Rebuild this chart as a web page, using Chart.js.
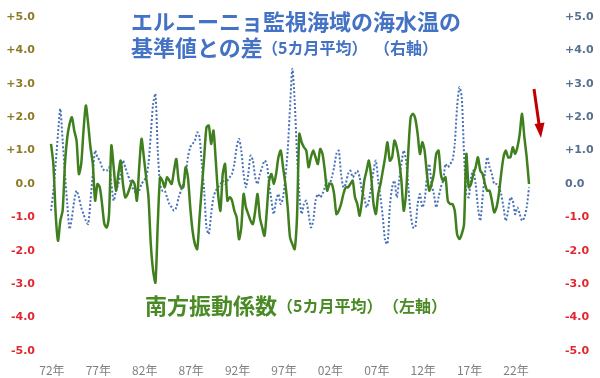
<!DOCTYPE html>
<html lang="ja">
<head>
<meta charset="utf-8">
<title>南方振動係数とエルニーニョ監視海域の海水温</title>
<script src="https://cdn.jsdelivr.net/npm/chart.js@4.4.0/dist/chart.umd.min.js"></script>
<style>
  html, body { margin: 0; padding: 0; background: #fff; }
  #wrap { position: relative; width: 600px; height: 378px; overflow: hidden; }
  #chart { position: absolute; left: 0; top: 0; }
  .lbl {
    position: absolute;
    white-space: nowrap;
    line-height: 1;
    font-family: "Noto Sans CJK JP", "Noto Sans", sans-serif;
    font-weight: bold;
  }
  .blue { color: #4472c4; }
  .green { color: #4a8a24; }
  .big { font-size: 22px; }
  .small { font-size: 16px; }
</style>
</head>
<body>
<div id="wrap">
  <canvas id="chart" width="600" height="378"></canvas>
  <div class="lbl blue big" style="left:131px; top:9px;">エルニーニョ監視海域の海水温の</div>
  <div class="lbl blue big" style="left:131px; top:35px;">基準値との差</div>
  <div class="lbl blue small" style="left:262px; top:39px;">（5カ月平均）</div>
  <div class="lbl blue small" style="left:374px; top:39px;">（右軸）</div>
  <div class="lbl green big" style="left:145px; top:293px;">南方振動係数</div>
  <div class="lbl green small" style="left:277px; top:297px;">（5カ月平均）</div>
  <div class="lbl green small" style="left:383px; top:297px;">（左軸）</div>
</div>

<script>
// ---- Data (quarterly samples of 5-month running means) ----
const START_YEAR = 1971.9;   // first sample
const STEP = 0.25;           // one quarter

// 南方振動係数 (left axis)
const soiValues = [
  1.2,
  0.6, -0.9, -1.7, -1.1,    // 1972
  -0.8, 0.6, 1.4, 1.8,      // 1973
  2.0, 1.6, 1.3, 0.3,       // 1974
  0.6, 1.6, 2.35, 1.8,      // 1975
  1.1, 0.6, -0.5, 0.0,      // 1976
  -0.1, -0.6, -1.2, -1.3,   // 1977
  -0.9, 1.15, 0.5, -0.2,    // 1978
  0.3, 0.7, 0.0, -0.4,      // 1979
  -0.3, -0.1, 0.1, 0.0,     // 1980
  -0.5, 0.5, 1.35, 0.8,     // 1981
  0.2, -0.4, -1.8, -2.6,    // 1982
  -2.95, -1.2, 0.2, 0.1,    // 1983
  -0.1, 0.2, 0.1, 0.0,      // 1984
  0.4, 0.75, 0.1, -0.1,     // 1985
  -0.1, 0.5, 0.2, -0.7,     // 1986
  -1.4, -1.8, -1.95, -1.0,  // 1987
  -0.1, 0.8, 1.7, 1.75,     // 1988
  1.2, 1.6, 0.7, -0.3,      // 1989
  -0.8, 0.3, 0.6, -0.5,     // 1990
  -0.4, -0.5, -0.8, -1.0,   // 1991
  -1.65, -1.3, -0.3, -0.7,  // 1992
  -0.9, -1.1, -1.2, -0.8,   // 1993
  -0.3, -1.0, -1.3, -1.55,  // 1994
  -0.8, 0.1, 0.3, 0.0,      // 1995
  0.3, 0.8, 1.0, 0.5,       // 1996
  0.0, -0.7, -1.6, -1.8,    // 1997
  -1.95, -1.0, 1.5, 1.25,   // 1998
  1.1, 1.0, 0.5, 0.8,       // 1999
  1.0, 0.8, 0.6, 1.05,      // 2000
  0.9, 0.4, -0.2, 0.0,      // 2001
  0.0, -0.3, -0.9, -0.8,    // 2002
  -0.6, -0.3, -0.1, -0.1,   // 2003
  0.0, 0.1, -0.4, -0.6,     // 2004
  -0.95, -0.5, 0.1, 0.4,    // 2005
  0.7, 0.2, -0.6, -0.9,     // 2006
  -0.3, 0.0, 0.4, 0.8,      // 2007
  1.25, 0.7, 0.8, 1.3,      // 2008
  1.1, 0.7, 0.1, -0.8,      // 2009
  -0.3, 1.0, 2.0, 2.1,      // 2010
  1.95, 1.5, 0.9, 1.25,     // 2011
  1.0, 0.3, -0.2, 0.0,      // 2012
  0.3, 0.9, 1.0, 0.3,       // 2013
  0.1, 0.2, -0.5, -0.6,     // 2014
  -0.6, -0.8, -1.5, -1.65,  // 2015
  -1.5, -1.2, 0.9, -0.1,    // 2016
  0.0, 0.3, 0.5, 0.8,       // 2017
  0.4, 0.3, 0.0, -0.2,      // 2018
  -0.2, -0.5, -0.85, -0.7,  // 2019
  -0.3, 0.3, 0.8, 1.0,      // 2020
  0.8, 0.8, 1.1, 0.9,       // 2021
  1.1, 1.5, 2.1, 1.4,       // 2022
  0.8, 0.0                  // 2023
];

// エルニーニョ監視海域の海水温の基準値との差 (right axis)
const sstValues = [
  -0.8,
  -0.2, 0.6, 1.5, 2.25,     // 1972
  1.3, 0.3, -0.6, -1.35,    // 1973
  -1.0, -0.5, -0.2, -0.4,   // 1974
  -0.7, -0.9, -1.1, -1.2,   // 1975
  -0.5, 0.3, 1.0, 0.8,      // 1976
  0.7, 0.5, 0.4, 0.4,       // 1977
  0.5, 0.0, -0.5, -0.2,     // 1978
  0.0, 0.3, 0.7, 0.5,       // 1979
  0.3, 0.1, -0.1, -0.2,     // 1980
  -0.3, -0.2, 0.0, 0.1,     // 1981
  0.2, 0.6, 1.5, 2.4,       // 1982
  2.7, 1.0, 0.0, -0.2,      // 1983
  -0.2, -0.4, -0.6, -0.7,   // 1984
  -0.8, -0.7, -0.4, -0.2,   // 1985
  0.0, 0.3, 0.8, 1.1,       // 1986
  1.2, 1.3, 1.55, 1.4,      // 1987
  0.6, -0.2, -1.3, -1.5,    // 1988
  -0.9, -0.4, -0.2, -0.1,   // 1989
  0.0, 0.1, 0.0, 0.1,       // 1990
  0.2, 0.3, 0.6, 1.1,       // 1991
  1.35, 1.0, 0.3, -0.1,     // 1992
  0.3, 0.85, 0.7, 0.2,      // 1993
  0.0, 0.3, 0.5, 0.7,       // 1994
  0.6, 0.0, -0.5, -0.9,     // 1995
  -0.5, -0.3, -0.6, -0.4,   // 1996
  0.2, 1.0, 2.3, 3.45,      // 1997
  2.5, 0.9, -0.3, -0.9,     // 1998
  -0.6, -0.5, -0.9, -1.3,   // 1999
  -1.1, -0.5, -0.3, -0.4,   // 2000
  -0.3, -0.1, 0.1, 0.0,     // 2001
  0.2, 0.5, 0.9, 1.0,       // 2002
  0.3, -0.1, 0.0, 0.3,      // 2003
  0.4, 0.2, 0.3, 0.4,       // 2004
  0.2, -0.2, -0.4, -0.7,    // 2005
  -0.5, -0.1, 0.4, 0.7,     // 2006
  0.1, -0.4, -1.0, -1.7,    // 2007
  -1.8, -0.7, -0.1, 0.1,    // 2008
  -0.4, 0.1, 0.6, 1.0,      // 2009
  0.7, -0.1, -0.9, -1.3,    // 2010
  -1.3, -0.6, -0.3, -0.7,   // 2011
  -0.5, 0.2, 0.6, 0.0,      // 2012
  -0.3, -0.7, -0.4, -0.1,   // 2013
  0.1, 0.6, 0.5, 0.6,       // 2014
  0.7, 1.2, 2.3, 2.9,       // 2015
  2.6, 0.9, -0.3, -0.4,     // 2016
  0.2, 0.4, 0.0, -0.7,      // 2017
  -1.1, -0.4, 0.3, 0.8,     // 2018
  0.5, 0.3, 0.0, 0.0,       // 2019
  -0.1, -0.3, -0.7, -1.1,   // 2020
  -0.8, -0.4, -0.5, -0.9,   // 2021
  -0.7, -0.9, -1.1, -1.0,   // 2022
  -0.7, -0.1                // 2023
];

// x-axis ticks
const tickYears = [1972, 1977, 1982, 1987, 1992, 1997, 2002, 2007, 2012, 2017, 2022];
const tickLabels = ['72年', '77年', '82年', '87年', '92年', '97年', '02年', '07年', '12年', '17年', '22年'];

// ---- Helpers ----
const toPoints = (vals) => vals.map((v, i) => ({ x: START_YEAR + i * STEP, y: v }));
const fmtTick = (v) => (v > 0 ? '+' : '') + Number(v).toFixed(1);

const NEG_RED = '#e2262f';

// red arrow at the right end
const arrowPlugin = {
  id: 'arrow',
  afterDraw(chart) {
    const ctx = chart.ctx;
    ctx.save();
    ctx.strokeStyle = '#c00000';
    ctx.fillStyle = '#c00000';
    ctx.lineWidth = 3;
    ctx.beginPath();
    ctx.moveTo(534, 89);
    ctx.lineTo(539, 124);
    ctx.stroke();
    ctx.beginPath();
    ctx.moveTo(534.5, 124);
    ctx.lineTo(544.5, 122.5);
    ctx.lineTo(541, 138);
    ctx.closePath();
    ctx.fill();
    ctx.restore();
  }
};

// ---- Chart ----
new Chart(document.getElementById('chart'), {
  type: 'line',
  data: {
    datasets: [
      {
        label: '南方振動係数（5カ月平均）',
        data: toPoints(soiValues),
        yAxisID: 'yL',
        borderColor: '#3f7f1e',
        borderWidth: 2.5,
        pointRadius: 0,
        tension: 0.25,
        fill: false
      },
      {
        label: 'エルニーニョ監視海域の海水温の基準値との差（5カ月平均）',
        data: toPoints(sstValues),
        yAxisID: 'yR',
        borderColor: '#4a72b8',
        borderWidth: 2,
        borderDash: [2, 2],
        pointRadius: 0,
        tension: 0.25,
        fill: false
      }
    ]
  },
  options: {
    responsive: false,
    animation: false,
    devicePixelRatio: 1,
    layout: { padding: { top: 17, right: 0, bottom: 0, left: 0 } },
    plugins: {
      legend: { display: false },
      tooltip: { enabled: false }
    },
    scales: {
      x: {
        type: 'linear',
        min: 1971.25,
        max: 2026.2,
        grid: { display: false, drawTicks: false },
        border: { display: false },
        afterBuildTicks: (scale) => { scale.ticks = tickYears.map(v => ({ value: v })); },
        afterFit: (scale) => { scale.height = 27; },
        ticks: {
          autoSkip: false,
          maxRotation: 0,
          padding: 12,
          color: '#808080',
          font: { family: '"Noto Sans CJK JP", sans-serif', size: 12 },
          callback: (v) => tickLabels[tickYears.indexOf(v)] ?? ''
        }
      },
      yL: {
        position: 'left',
        min: -5,
        max: 5,
        grid: { display: false, drawTicks: false },
        border: { display: false },
        afterFit: (scale) => { scale.width = 45; },
        ticks: {
          stepSize: 1,
          padding: 10,
          font: { family: '"DejaVu Sans", sans-serif', size: 11, weight: 'bold' },
          color: (c) => c.tick.value < 0 ? NEG_RED : '#8c7a28',
          callback: fmtTick
        }
      },
      yR: {
        position: 'right',
        min: -5,
        max: 5,
        grid: { display: false, drawTicks: false },
        border: { display: false },
        afterFit: (scale) => { scale.width = 45; },
        ticks: {
          stepSize: 1,
          padding: 10,
          font: { family: '"DejaVu Sans", sans-serif', size: 11, weight: 'bold' },
          color: (c) => c.tick.value < 0 ? NEG_RED : '#56708f',
          callback: fmtTick
        }
      }
    }
  },
  plugins: [arrowPlugin]
});
</script>
</body>
</html>
